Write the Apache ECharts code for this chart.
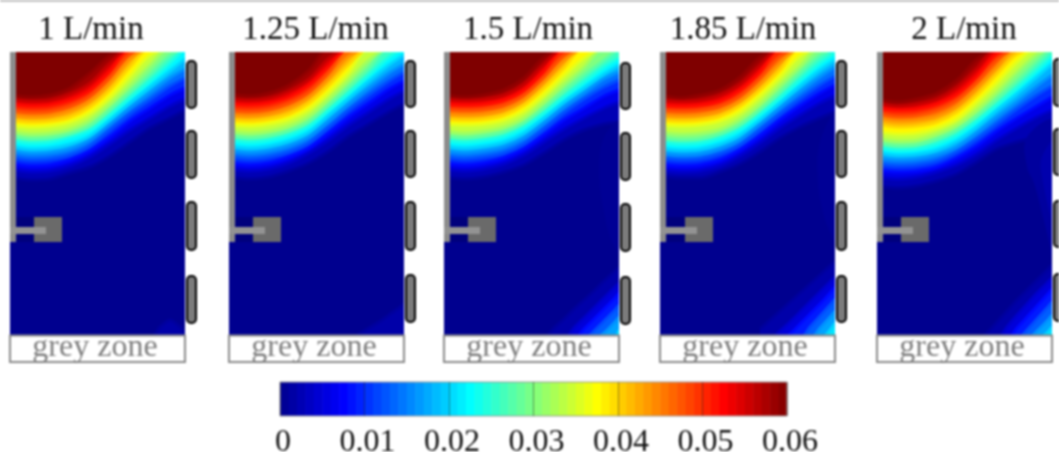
<!DOCTYPE html>
<html><head><meta charset="utf-8">
<style>html,body{margin:0;padding:0;background:#fff}#c{width:1059px;height:452px;filter:blur(0.85px)}</style>
<script src="https://cdn.jsdelivr.net/npm/echarts@6/dist/echarts.min.js"></script>
</head><body><div id="c"></div>
<script>
// Flow rates (panel titles)
const flowRates = ['1 L/min','1.25 L/min','1.5 L/min','1.85 L/min','2 L/min'];
// Colour scale
const colorbarTicks = [0,0.01,0.02,0.03,0.04,0.05,0.06];
const colorbarSteps = [0,.001,.002,.003,.004,.005,.006,.007,.008,.009,.01,.011,.012,.013,.014,.015,.016,.017,.018,.019,.02,.021,.022,.023,.024,.025,.026,.027,.028,.029,.03,.031,.032,.033,.034,.035,.036,.037,.038,.039,.04,.041,.042,.043,.044,.045,.046,.047,.048,.049,.05,.051,.052,.053,.054,.055,.056,.057,.058,.059];
const jetStops = [[0,'#00008f'],[0.0075,'#0000ff'],[0.0225,'#00ffff'],[0.0375,'#ffff00'],[0.0525,'#ff0000'],[0.06,'#7f0000']];

// Contours of the plume: depth below the top edge at each station
const stationsTop = [0,20,40,60,80,100,120,140,160,175];
const levelsTop = [.001,.004,.008,.012,.016,.020,.024,.028,.032,.036,.040,.044,.048,.052,.056,.060];
const plume1 = [
[125,128,127,121,115,104,90,76,66,58],[117,120,119,114,105,92,78,66,54,47],[111,114,113,108,99,85,69,56,43,36],
[105,108,107,103,94,78,62,48,34,26],[99,102,101,97,88,72,56,41,26,17],[94,97,96,92,84,68,51,35,19,7],
[88,91,90,85,78,63,46,29,11,0],[84,87,86,82,74,58,40,22,3,0],[79,82,81,77,68,52,33,13,0,0],
[73,75,74,70,61,45,24,3,0,0],[68,70,69,65,55,38,15,0,0,0],[63,65,64,59,49,31,7,0,0,0],
[58,60,59,54,44,25,2,0,0,0],[52,54,53,48,38,19,0,0,0,0],[47,49,48,42,31,11,0,0,0,0],[43,45,43,36,21,3,0,0,0,0]];
const plume2 = [
[125,127,125,119,111,99,84,72,60,52],[117,119,117,111,101,88,73,60,47,39],[111,113,111,105,96,81,65,51,37,29],
[105,107,105,100,91,75,58,43,29,20],[99,101,99,94,85,69,52,36,21,12],[94,96,94,89,80,63,46,29,13,3],
[88,90,88,83,74,58,41,23,5,0],[84,86,84,79,70,53,35,16,0,0],[79,81,79,74,64,47,28,8,0,0],
[73,74,72,67,57,40,20,0,0,0],[68,69,67,62,51,33,12,0,0,0],[63,64,62,56,45,26,4,0,0,0],
[58,59,57,51,40,20,0,0,0,0],[52,53,51,45,33,14,0,0,0,0],[47,48,46,39,27,6,0,0,0,0],[42,44,41,33,18,0,0,0,0,0]];
const plume3 = [
[125,127,125,120,113,101,88,78,72,70],[117,119,117,112,103,90,77,66,56,50],[111,113,111,106,97,83,68,56,44,38],
[105,107,105,101,92,77,61,47,35,28],[99,101,99,95,86,71,55,41,27,20],[94,96,94,90,81,66,50,36,22,13],
[88,90,88,84,75,61,45,30,15,6],[84,86,84,80,71,56,39,23,8,0],[79,81,79,75,66,50,32,15,0,0],
[72,73,72,68,59,43,24,6,0,0],[67,68,67,63,53,36,16,0,0,0],[62,63,62,58,48,30,9,0,0,0],
[57,58,57,53,43,25,3,0,0,0],[52,53,52,48,38,19,0,0,0,0],[47,48,47,43,32,12,0,0,0,0],[43,45,43,38,26,5,0,0,0,0]];
const plume4 = [
[124,126,126,120,112,100,86,75,66,60],[118,120,119,114,104,91,76,63,51,44],[112,114,113,108,98,84,68,54,41,33],
[106,108,107,102,93,78,62,47,33,24],[101,103,102,97,88,72,56,40,25,15],[96,98,97,92,83,68,51,34,18,8],
[90,92,91,86,77,62,46,28,11,1],[86,88,87,82,73,58,40,21,3,0],[80,82,81,77,67,52,33,14,0,0],
[73,74,73,69,60,44,25,4,0,0],[68,69,68,64,54,38,18,0,0,0],[63,64,63,59,49,32,11,0,0,0],
[58,59,58,54,44,26,4,0,0,0],[53,54,53,49,38,20,0,0,0,0],[48,49,48,43,32,13,0,0,0,0],[43,46,43,38,25,5,0,0,0,0]];
const plume5 = [
[134,136,134,129,122,110,97,90,85,82],[125,127,125,120,113,102,88,76,65,58],[118,120,119,115,106,94,79,66,54,45],
[112,114,113,109,100,87,72,57,43,34],[106,108,107,103,95,81,65,50,34,23],[100,103,102,98,89,75,58,42,25,12],
[95,98,97,92,83,69,53,36,18,4],[91,94,93,87,78,64,47,29,10,0],[86,89,88,82,73,58,40,20,2,0],
[79,82,81,76,67,50,31,10,0,0],[72,75,74,70,60,43,22,2,0,0],[66,69,68,64,54,36,15,0,0,0],
[61,64,63,58,48,30,8,0,0,0],[56,58,57,52,42,24,1,0,0,0],[51,54,52,47,35,16,0,0,0,0],[47,50,47,41,28,7,0,0,0,0]];

// Lower right corner patch: depth of each contour at each station
const stationsCorner = [100,110,120,130,140,150,160,170,175];
const levelsCorner = [.001,.004,.008,.012,.016,.020];
const corner1 = [[283,283,283,283,283,275,268,275,282],[283,283,283,283,283,283,283,283,283],[283,283,283,283,283,283,283,283,283],[283,283,283,283,283,283,283,283,283],[283,283,283,283,283,283,283,283,283],[283,283,283,283,283,283,283,283,283]];
const corner2 = [[283,283,283,282,276,270,263,256,252],[283,283,283,283,283,283,283,283,283],[283,283,283,283,283,283,283,283,283],[283,283,283,283,283,283,283,283,283],[283,283,283,283,283,283,283,283,283],[283,283,283,283,283,283,283,283,283]];
const corner3 = [[283,276,267,257,248,239,229,220,215],[283,283,283,276,266,256,246,236,231],[283,283,283,283,277,267,257,247,241],[283,283,283,283,283,279,269,259,253],[283,283,283,283,283,283,281,271,265],[283,283,283,283,283,283,283,283,278]];
const corner4 = [[277,268,259,250,241,232,223,214,210],[283,283,279,270,260,250,240,230,225],[283,283,283,282,272,262,252,241,235],[283,283,283,283,283,275,264,253,247],[283,283,283,283,283,283,276,265,259],[283,283,283,283,283,283,283,278,271]];
const corner5 = [[283,281,270,259,248,238,228,218,213],[283,283,283,275,263,252,241,231,226],[283,283,283,283,276,265,254,243,237],[283,283,283,283,283,278,267,256,250],[283,283,283,283,283,283,279,269,263],[283,283,283,283,283,283,283,281,275]];

// Faint patches against the right edge: [level, outline]
const edgePatch3 = [[.0004,[[177,70],[160,85],[155,120],[160,160],[168,190],[177,200]]]];
const edgePatch4 = [[.0005,[[177,60],[160,90],[158,130],[163,160],[170,180],[177,190]]]];
const edgePatch5 = [[.001,[[177,70],[150,85],[150,115],[157,131],[166,165],[171,185],[177,210]]],[.002,[[177,90],[165,105],[165,125],[177,170]]]];

// Scene furniture, in the same plot units
const windows1 = [[9,56],[79,126],[150,198],[224,271]];
const windows2 = [[9,55],[79,125],[150,198],[223,270]];
const windows3 = [[11,57],[81,128],[152,199],[225,272]];
const windows4 = [[9,55],[79,125],[150,198],[224,270]];
const windows5 = [[7,54],[77,123],[149,195],[222,269]];

const panelLeft = [10,229,444,660,877];
const plumes = [plume1,plume2,plume3,plume4,plume5];
const corners = [corner1,corner2,corner3,corner4,corner5];
const edgePatches = [[],[],edgePatch3,edgePatch4,edgePatch5];
const windowSets = [windows1,windows2,windows3,windows4,windows5];
const titleCentre = [91,315.5,528,743,964];
const SERIF = '"Liberation Serif","Times New Roman",serif';

function hex(c){return [parseInt(c.substr(1,2),16),parseInt(c.substr(3,2),16),parseInt(c.substr(5,2),16)];}
function jet(v){
  if(v>=0.06) return jetStops[5][1];
  for(let i=0;i<5;i++){
    const a=jetStops[i],b=jetStops[i+1];
    if(v<=b[0]){const t=(v-a[0])/(b[0]-a[0]);const p=hex(a[1]),q=hex(b[1]);
      return 'rgb('+p.map((x,k)=>Math.round(x+(q[k]-x)*t)).join(',')+')';}
  }
}
function bandColor(levels,i,share){
  const next = i+1<levels.length ? levels[i+1] : levels[i]*2-levels[i-1];
  return jet(levels[i]===0.06 ? 0.06 : levels[i]+(next-levels[i])*share);
}
// contours that have left the field are pushed just beyond its edge so that they leave no trace on it
const offTop = d => d===0 ? -4 : d;
const offBottom = d => d===283 ? 288 : d;

const grids=[],xAxes=[],yAxes=[],series=[],titles=[];
flowRates.forEach((name,p)=>{
  grids.push({left:panelLeft[p],top:52,width:175,height:283,show:true,backgroundColor:jet(0),borderWidth:0,outerBoundsMode:'none'});
  xAxes.push({type:'value',gridIndex:p,min:0,max:175,show:false});
  yAxes.push({type:'value',gridIndex:p,min:0,max:283,inverse:true,show:false});
  titles.push({text:name,left:titleCentre[p],top:14,padding:0,textAlign:'center',textStyle:{fontFamily:SERIF,fontSize:33,fontWeight:'normal',color:'#111'}});
  levelsTop.forEach((lv,i)=>{
    series.push({type:'line',name:name+' '+lv,xAxisIndex:p,yAxisIndex:p,showSymbol:false,smooth:0.3,silent:true,animation:false,
      lineStyle:{width:3,color:jet(Math.min(lv,0.059))},areaStyle:{color:bandColor(levelsTop,i,0.5),opacity:1,origin:'start'},
      data:stationsTop.map((x,k)=>[x,offTop(plumes[p][i][k])]),z:2+i*0.01});
  });
  levelsCorner.forEach((lv,i)=>{
    series.push({type:'line',name:name+' corner '+lv,xAxisIndex:p,yAxisIndex:p,showSymbol:false,smooth:0.2,silent:true,animation:false,
      lineStyle:{width:3,color:jet(lv)},areaStyle:{color:bandColor(levelsCorner,i,0.25),opacity:1,origin:'end'},
      data:stationsCorner.map((x,k)=>[x,offBottom(corners[p][i][k])]),z:3+i*0.01});
  });
  if(edgePatches[p].length){
    series.push({type:'custom',xAxisIndex:p,yAxisIndex:p,silent:true,animation:false,z:2.9,clip:true,
      data:edgePatches[p].map((e,i)=>[i]),
      renderItem:function(params,api){
        const e=edgePatches[p][api.value(0)];
        return {type:'polygon',shape:{points:e[1].map(c=>api.coord(c)),smooth:0.4},style:{fill:jet(e[0])}};
      }});
  }
  // wall, sensor, windows, grey zone
  series.push({type:'custom',xAxisIndex:p,yAxisIndex:p,silent:true,animation:false,z:5,clip:false,data:[[0]],
    renderItem:function(params,api){
      const R=(x0,y0,x1,y1,style,r)=>{const a=api.coord([x0,y0]),b=api.coord([x1,y1]);
        return {type:'rect',shape:{x:a[0],y:a[1],width:b[0]-a[0],height:b[1]-a[1],r:r||0},style:style};};
      const sensorX = p===3?25:24;
      const kids=[
        R(-4,-8,180,0,{fill:'#fff'}),
        R(175,0,177,283,{fill:'#fff'}),
        R(-4,0,0,283,{fill:'#fff'}),
        R(6,165,sensorX,190,{fill:'#00007c'}),
        R(0,0,6,190,{fill:'#8c8c8c'}),
        R(sensorX,165,sensorX+28,190,{fill:'#6a6a6a'}),
        R(0,175,sensorX+12,182,{fill:'#939393'}),
        R(0,283.5,175,310,{fill:'#fff',stroke:'#8a8a8a',lineWidth:2})
      ];
      windowSets[p].forEach(w=>kids.push(R(177,w[0],186,w[1],{fill:'#7c7c7c',stroke:'#000',lineWidth:2},4)));
      const c=api.coord([85,296]);
      kids.push({type:'text',style:{text:'grey zone',x:c[0],y:c[1],align:'center',verticalAlign:'middle',fontFamily:SERIF,fontSize:32,fill:'#7e7e7e'}});
      return {type:'group',children:kids};
    }});
});

// colour bar
const cb=flowRates.length;
grids.push({left:280,top:382,width:507,height:34,show:true,borderColor:'#9a9a9a',borderWidth:1,backgroundColor:'transparent',z:6,outerBoundsMode:'none'});
xAxes.push({type:'value',gridIndex:cb,min:0,max:0.06,interval:0.01,z:10,
  axisLine:{show:false},splitLine:{show:false},
  axisTick:{show:true,inside:true,length:34,lineStyle:{color:'rgba(30,30,30,0.45)',width:1}},
  axisLabel:{show:true,margin:11,padding:[0,0,0,6],fontFamily:SERIF,fontSize:32,color:'#111',hideOverlap:false,formatter:v=>String(colorbarTicks.find(t=>Math.abs(t-v)<1e-9))}});
yAxes.push({type:'value',gridIndex:cb,min:0,max:1,show:false});
series.push({type:'custom',xAxisIndex:cb,yAxisIndex:cb,silent:true,animation:false,z:1,clip:true,
  data:colorbarSteps.map(v=>[v]),
  renderItem:function(params,api){
    const v=api.value(0);const a=api.coord([v,1]),b=api.coord([v+0.001,0]);
    return {type:'rect',shape:{x:a[0],y:a[1],width:b[0]-a[0]+0.6,height:b[1]-a[1]},style:{fill:jet(v+0.0005)}};
  }});

const chart=echarts.init(document.getElementById('c'),null,{renderer:'canvas'});
chart.setOption({animation:false,backgroundColor:'#fff',title:titles,grid:grids,xAxis:xAxes,yAxis:yAxes,series:series,
  graphic:[{type:'rect',silent:true,shape:{x:0,y:0,width:1059,height:1.5},style:{fill:'#a8a8a8'}}]});
</script></body></html>
